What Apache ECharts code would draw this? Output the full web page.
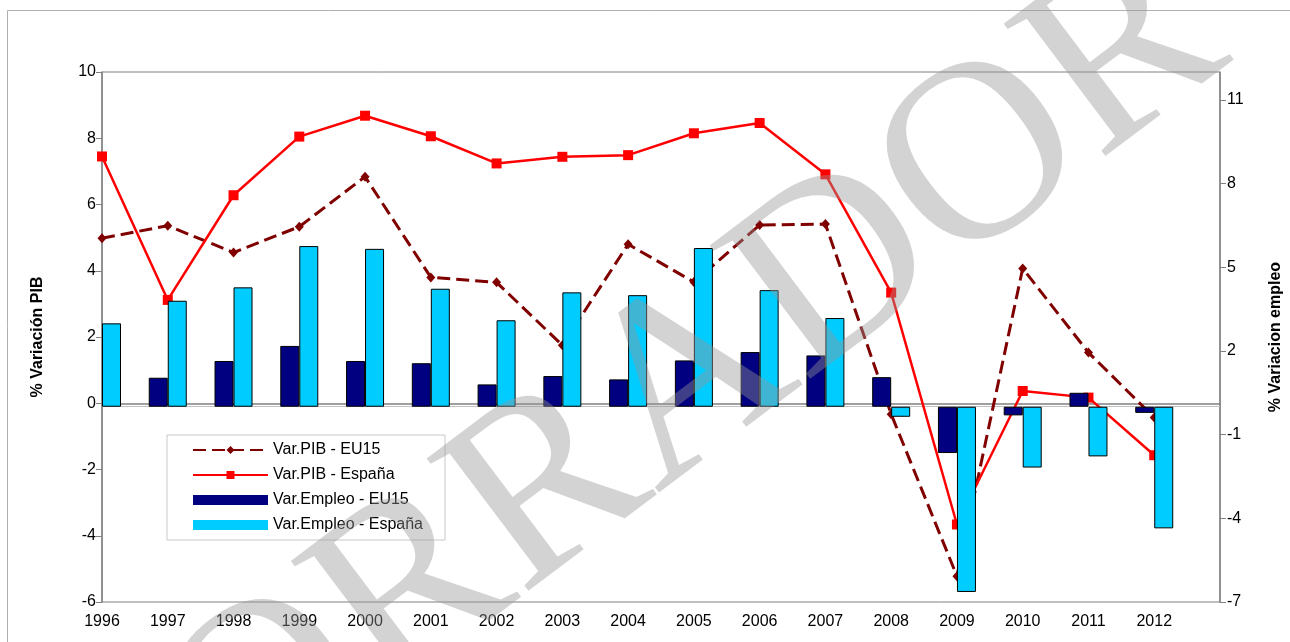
<!DOCTYPE html>
<html>
<head>
<meta charset="utf-8">
<script src="https://cdn.jsdelivr.net/npm/echarts@6/dist/echarts.min.js"></script>
<style>
  html, body { margin: 0; padding: 0; background: #fff; }
  #chart { width: 1290px; height: 642px; }
</style>
</head>
<body>
<div id="chart"></div>
<script>
// años (la última categoría vacía deja hueco a la derecha, como en el original)
const years = ['1996', '1997', '1998', '1999', '2000', '2001', '2002', '2003', '2004',
  '2005', '2006', '2007', '2008', '2009', '2010', '2011', '2012', ''];

// % variación PIB (eje izquierdo)
const pibEU15 = [4.98, 5.36, 4.55, 5.33, 6.84, 3.80, 3.65, 1.75, 4.80, 3.66, 5.38, 5.41, -0.33, -5.22, 4.07, 1.53, -0.43];
const pibEspana = [7.45, 3.12, 6.28, 8.05, 8.68, 8.06, 7.24, 7.44, 7.49, 8.15, 8.46, 6.91, 3.34, -3.66, 0.37, 0.17, -1.57];

// % variación empleo (eje derecho)
const empleoEU15 = [null, 1.04, 1.64, 2.18, 1.64, 1.56, 0.80, 1.10, 0.98, 1.66, 1.96, 1.84, 1.06, -1.66, -0.31, 0.50, -0.22];
const empleoEspana = [2.99, 3.80, 4.28, 5.76, 5.66, 4.23, 3.10, 4.10, 4.00, 5.69, 4.18, 3.18, -0.36, -6.64, -2.18, -1.78, -4.36];

// etiquetas de los ejes
const leftTicks = [-6, -4, -2, 0, 2, 4, 6, 8, 10];
const rightTicks = [-7, -4, -1, 2, 5, 8, 11];

const FONT = '"Liberation Sans", Arial, sans-serif';
const chart = echarts.init(document.getElementById('chart'));

const option = {
  animation: false,
  backgroundColor: '#fff',
  textStyle: { fontFamily: FONT },
  grid: {
    left: 102, right: 70, top: 72, bottom: 40,
    show: true, borderColor: '#808080', borderWidth: 1,
    outerBoundsMode: 'none'
  },
  legend: {
    orient: 'vertical',
    left: 167, top: 435,
    padding: [7, 22, 7, 25],
    itemWidth: 75, itemHeight: 10, itemGap: 9,
    borderColor: '#c8c8c8', borderWidth: 1,
    backgroundColor: '#fff',
    textStyle: { fontSize: 16, color: '#000', fontFamily: FONT },
    data: [
      { name: 'Var.PIB - EU15' },
      { name: 'Var.PIB - España' },
      { name: 'Var.Empleo - EU15', icon: 'rect', itemStyle: { borderWidth: 0 } },
      { name: 'Var.Empleo - España', icon: 'rect', itemStyle: { borderWidth: 0 } }
    ]
  },
  xAxis: {
    type: 'category',
    data: years,
    boundaryGap: false,
    axisLine: { lineStyle: { color: '#808080', width: 1.5 } },
    axisTick: { show: false },
    axisLabel: { fontSize: 16, color: '#000', margin: 12, interval: 0 },
    splitLine: { show: false }
  },
  yAxis: [
    {
      type: 'value',
      min: -6, max: 10, interval: 2,
      name: '% Variación PIB',
      nameLocation: 'middle', nameRotate: 90, nameGap: 56,
      nameTextStyle: { fontSize: 16, fontWeight: 'bold', color: '#000' },
      axisLine: { show: true, lineStyle: { color: '#808080', width: 1.5 } },
      axisTick: { show: true, length: 6, lineStyle: { color: '#808080' }, customValues: leftTicks },
      axisLabel: { fontSize: 16, color: '#000', margin: 6, customValues: leftTicks },
      splitLine: { show: false }
    },
    {
      type: 'value',
      position: 'right',
      min: -7, max: 12, interval: 3,
      name: '% Variacion empleo',
      nameLocation: 'middle', nameRotate: 90, nameGap: 48,
      nameTextStyle: { fontSize: 16, fontWeight: 'bold', color: '#000' },
      axisLine: { show: true, lineStyle: { color: '#808080', width: 1.5 } },
      axisTick: { show: true, length: 6, lineStyle: { color: '#808080' }, customValues: rightTicks },
      axisLabel: { fontSize: 16, color: '#000', margin: 7, customValues: rightTicks },
      splitLine: { show: false }
    }
  ],
  series: [
    {
      name: 'Var.PIB - EU15',
      type: 'line',
      yAxisIndex: 0,
      data: pibEU15,
      z: 2,
      color: '#800000',
      lineStyle: { width: 3, type: [13, 6] },
      symbol: 'diamond',
      symbolSize: [9, 10],
      itemStyle: { color: '#800000' }
    },
    {
      name: 'Var.PIB - España',
      type: 'line',
      yAxisIndex: 0,
      data: pibEspana,
      z: 2,
      color: '#ff0000',
      lineStyle: { width: 2.5 },
      symbol: 'rect',
      symbolSize: 10,
      itemStyle: { color: '#ff0000' }
    },
    {
      name: 'Var.Empleo - EU15',
      type: 'bar',
      yAxisIndex: 1,
      data: empleoEU15,
      z: 3,
      barWidth: 19,
      barGap: '0%',
      color: '#000080',
      itemStyle: { color: '#000080', borderColor: '#000', borderWidth: 1 },
      markLine: {
        silent: true,
        symbol: 'none',
        z: 1,
        label: { show: false },
        lineStyle: { color: '#c0c0c0', width: 1, type: 'solid' },
        data: [{ yAxis: 0 }]
      }
    },
    {
      name: 'Var.Empleo - España',
      type: 'bar',
      yAxisIndex: 1,
      data: empleoEspana,
      z: 3,
      barWidth: 19,
      barGap: '0%',
      color: '#00ccff',
      itemStyle: { color: '#00ccff', borderColor: '#000', borderWidth: 1 }
    }
  ],
  graphic: [
    {
      type: 'rect',
      silent: true,
      z: -10,
      shape: { x: 7.5, y: 10.5, width: 1300, height: 700 },
      style: { fill: 'none', stroke: '#b0b0b0', lineWidth: 1 }
    },
    {
      // marca de agua "BORRADOR"
      type: 'text',
      silent: true,
      z: 100,
      x: 628, y: 432,
      rotation: 37 * Math.PI / 180,
      style: {
        text: 'BORRADOR',
        font: '255px "Liberation Serif", "DejaVu Serif", serif',
        fill: 'rgba(150,150,150,0.42)',
        align: 'center',
        verticalAlign: 'middle'
      }
    }
  ]
};

chart.setOption(option);
</script>
</body>
</html>
